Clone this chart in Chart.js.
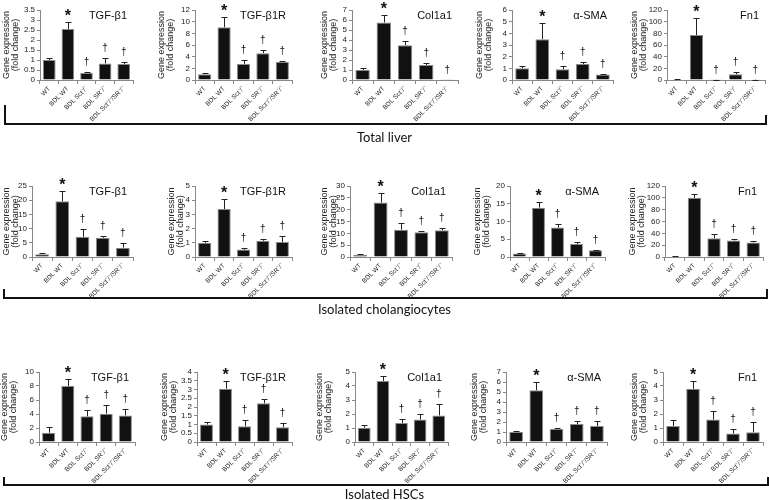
<!DOCTYPE html>
<html>
<head>
<meta charset="utf-8">
<script src="https://cdn.jsdelivr.net/npm/chart.js@4"></script>
<style>
  body { margin: 0; background: #fff; width: 769px; height: 500px; position: relative; overflow: hidden; }
  canvas { position: absolute; }
  .rule { position: absolute; background: #111; }
  .group { position: absolute; left: 0; width: 769px; text-align: center; font: 13px Lato, sans-serif; color: #111; line-height: 16px; }
</style>
</head>
<body>
<script>
const categories = ['WT', 'BDL WT', 'BDL Sct⁻/⁻', 'BDL SR⁻/⁻', 'BDL Sct⁻/⁻/SR⁻/⁻'];
const genes = ['TGF-β1', 'TGF-β1R', 'Col1a1', 'α-SMA', 'Fn1'];
const groups = ['Total liver', 'Isolated cholangiocytes', 'Isolated HSCs'];
const marks = ['', '*', '†', '†', '†'];

// total liver
const liverMeans = [
  [1.0, 2.55, 0.35, 0.83, 0.8],
  [1.0, 9.05, 2.75, 4.6, 3.1],
  [1.0, 5.75, 3.47, 1.5, 0.02],
  [1.0, 3.5, 0.92, 1.37, 0.47],
  [0.8, 77, 0.3, 9.7, 0.5]
];
const liverErrors = [
  [0.12, 0.33, 0.05, 0.25, 0.08],
  [0.25, 1.8, 0.7, 0.55, 0.2],
  [0.17, 0.7, 0.43, 0.17, 0],
  [0.2, 1.4, 0.28, 0.2, 0.05],
  [0.3, 30, 0.2, 4.6, 0.3]
];
const liverMax = [3.5, 12, 7, 6, 120];
const liverStep = [0.5, 2, 1, 1, 20];

// isolated cholangiocytes
const cholMeans = [
  [1.0, 19.6, 7.1, 6.8, 3.3],
  [1.0, 3.38, 0.52, 1.14, 1.05],
  [0.9, 23, 11.5, 10.5, 11.3],
  [0.96, 13.9, 8.3, 3.65, 1.9],
  [1.0, 100, 31.8, 28, 24.7]
];
const cholErrors = [
  [0.25, 3.5, 2.6, 0.7, 1.8],
  [0.14, 0.67, 0.1, 0.15, 0.43],
  [0.4, 3.9, 2.8, 0.3, 0.9],
  [0.3, 1.5, 0.9, 0.55, 0.2],
  [0.5, 6, 7, 3, 2.3]
];
const cholMax = [25, 5, 30, 20, 120];
const cholStep = [5, 1, 5, 5, 20];

// isolated HSCs
const hscMeans = [
  [1.33, 8.0, 3.67, 4.05, 3.8],
  [1.0, 3.05, 0.9, 2.21, 0.84],
  [1.02, 4.36, 1.36, 1.6, 1.9],
  [1.0, 5.18, 1.3, 1.8, 1.6],
  [1.14, 3.8, 1.6, 0.6, 0.7]
];
const hscErrors = [
  [0.8, 1.05, 0.93, 1.25, 0.96],
  [0.14, 0.44, 0.38, 0.25, 0.25],
  [0.19, 0.35, 0.31, 0.4, 0.8],
  [0.07, 0.82, 0.14, 0.3, 0.5],
  [0.46, 0.56, 0.6, 0.33, 0.7]
];
const hscMax = [10, 4, 5, 7, 5];
const hscStep = [2, 0.5, 1, 1, 1];

const allMeans = [liverMeans, cholMeans, hscMeans];
const allErrors = [liverErrors, cholErrors, hscErrors];
const allMax = [liverMax, cholMax, hscMax];
const allStep = [liverStep, cholStep, hscStep];

// page layout (pixels)
const rowTop = [10, 186, 372];
const rowZero = [80, 257, 442];
const titleLeft = [[2, 157, 320, 475, 630], [2, 167, 320, 473, 628], [0, 160, 315, 470, 630]];
const axisLeft = [[40, 195, 352, 512, 667], [32, 195, 350, 510, 665], [39, 197, 355, 506, 663]];
const axisRight = [[133, 292, 458, 613, 765], [133, 292, 452, 605, 763], [135, 292, 448, 607, 763]];
const PAD_T = 14, PAD_R = 4, X_H = 50;

Chart.defaults.font.family = '"Liberation Sans", Arial, sans-serif';
Chart.defaults.color = '#222';

const marksPlugin = {
  id: 'marks',
  afterDatasetsDraw(chart, args, opts) {
    const ctx = chart.ctx;
    const y = chart.scales.y;
    const ds = chart.data.datasets[0];
    const bars = chart.getDatasetMeta(0).data;
    ctx.save();
    ctx.strokeStyle = '#222';
    ctx.lineWidth = 1;
    ctx.fillStyle = '#111';
    ctx.textAlign = 'center';
    ctx.textBaseline = 'alphabetic';
    bars.forEach((bar, i) => {
      const top = Math.round(y.getPixelForValue(ds.data[i] + ds.errors[i])) + 0.5;
      const x = Math.round(bar.x) + 0.5;
      if (ds.errors[i] > 0) {
        ctx.beginPath();
        ctx.moveTo(x, bar.y);
        ctx.lineTo(x, top);
        ctx.moveTo(x - 3, top);
        ctx.lineTo(x + 3, top);
        ctx.stroke();
      }
      if (marks[i] === '*') {
        ctx.font = 'bold 16px "Liberation Sans"';
        ctx.fillText('*', bar.x, top - 2);
      } else if (marks[i]) {
        ctx.font = '10px "Liberation Sans"';
        ctx.fillText('†', bar.x, top - 8);
      }
    });
    ctx.font = '11px "Liberation Sans"';
    ctx.textAlign = 'right';
    ctx.textBaseline = 'middle';
    ctx.fillText(opts.gene, chart.chartArea.right - 6, chart.chartArea.top + 6);
    ctx.restore();
  }
};

function makeChart(r, c) {
  const left = titleLeft[r][c];
  const yW = axisLeft[r][c] - left;
  const plotW = axisRight[r][c] - axisLeft[r][c];
  const plotH = rowZero[r] - rowTop[r];
  const canvas = document.createElement('canvas');
  canvas.width = yW + plotW + PAD_R;
  canvas.height = PAD_T + plotH + X_H;
  canvas.style.width = canvas.width + 'px';
  canvas.style.height = canvas.height + 'px';
  canvas.style.left = left + 'px';
  canvas.style.top = (rowTop[r] - PAD_T) + 'px';
  document.body.appendChild(canvas);

  new Chart(canvas, {
    type: 'bar',
    data: {
      labels: categories,
      datasets: [{
        data: allMeans[r][c],
        errors: allErrors[r][c],
        backgroundColor: '#111',
        borderColor: '#8a8a8a',
        borderWidth: 1,
        categoryPercentage: 1,
        barPercentage: 0.68
      }]
    },
    options: {
      responsive: false,
      animation: false,
      layout: { padding: { top: PAD_T, right: PAD_R, left: 0, bottom: 0 } },
      plugins: { legend: { display: false }, tooltip: { enabled: false }, marks: { gene: genes[c] } },
      scales: {
        x: {
          afterFit: s => { s.height = X_H; },
          grid: { drawOnChartArea: false, drawTicks: true, tickLength: 4, color: '#888' },
          border: { color: '#888' },
          ticks: { minRotation: 45, maxRotation: 45, autoSkip: false, padding: 1, font: { size: 6.5 }, color: '#222' }
        },
        y: {
          min: 0,
          max: allMax[r][c],
          afterFit: s => { s.width = yW; },
          grid: { drawOnChartArea: false, drawTicks: true, tickLength: 3, color: '#888' },
          border: { color: '#888' },
          ticks: { stepSize: allStep[r][c], autoSkip: false, padding: 2, font: { size: 8, lineHeight: 1 }, color: '#222', callback: v => String(+v.toFixed(2)) },
          title: { display: true, text: ['Gene expression', '(fold change)'], font: { size: 9, lineHeight: 1.0 }, padding: 0, color: '#222' }
        }
      }
    },
    plugins: [marksPlugin]
  });
}

for (let r = 0; r < 3; r++) {
  for (let c = 0; c < 5; c++) makeChart(r, c);
}

// brackets and group names
function rule(x, y, w, h) {
  const d = document.createElement('div');
  d.className = 'rule';
  d.style.left = x + 'px'; d.style.top = y + 'px';
  d.style.width = w + 'px'; d.style.height = h + 'px';
  document.body.appendChild(d);
}
rule(4, 123, 763, 2); rule(4, 105, 2, 20); rule(765, 115, 2, 10);
rule(3, 297, 765, 2); rule(3, 289, 2, 10); rule(766, 289, 2, 10);
rule(3, 484, 766, 2); rule(3, 477, 2, 9); rule(767, 477, 2, 9);

const groupY = [129, 301, 486];
groups.forEach((g, i) => {
  const d = document.createElement('div');
  d.className = 'group';
  d.style.top = groupY[i] + 'px';
  d.textContent = g;
  document.body.appendChild(d);
});
</script>
</body>
</html>
